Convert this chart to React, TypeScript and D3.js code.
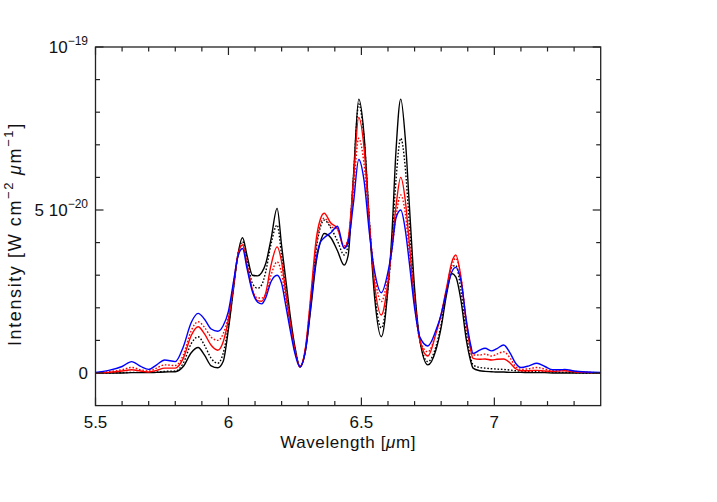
import React from 'react';
import * as d3 from 'd3';

// Wavelength grid [µm]
const wavelength = [5.50, 5.55, 5.60, 5.636, 5.67, 5.70, 5.73, 5.76, 5.80, 5.83, 5.86, 5.886, 5.91, 5.935, 5.96, 5.98, 6.00, 6.02, 6.035, 6.053, 6.07, 6.09, 6.11, 6.125, 6.14, 6.16, 6.183, 6.20, 6.215, 6.235, 6.25, 6.269, 6.29, 6.31, 6.33, 6.345, 6.36, 6.385, 6.41, 6.435, 6.45, 6.47, 6.49, 6.51, 6.53, 6.55, 6.575, 6.60, 6.615, 6.63, 6.648, 6.665, 6.68, 6.70, 6.72, 6.75, 6.78, 6.80, 6.82, 6.84, 6.855, 6.875, 6.895, 6.91, 6.92, 6.945, 6.965, 6.99, 7.01, 7.035, 7.06, 7.08, 7.10, 7.13, 7.16, 7.19, 7.22, 7.245, 7.265, 7.30, 7.35, 7.40];

// Intensities in units of 1e-20 W cm^-2 µm^-1
const blackSolid = [0, 0, 0, 0.01, 0.01, 0.01, 0.02, 0.03, 0.04, 0.2, 0.62, 0.78, 0.55, 0.22, 0.16, 0.35, 1.35, 2.65, 3.6, 4.15,
  3.6, 3.0, 2.98, 3.08, 3.35, 4.1, 5.05, 3.9, 2.9, 1.6, 0.8, 0.19,
  0.7, 2.0, 3.4, 4.0, 4.28, 4.15, 3.75, 3.31,
  3.6, 6.0, 8.4, 7.3, 4.6, 2.3, 1.11,
  2.6, 4.3, 6.8, 8.4, 7.2, 5.2, 2.6, 1.0, 0.25,
  0.7, 1.4, 2.4, 3.05, 2.95, 2.2, 1.0, 0.4, 0.15,
  0.07, 0.05, 0.04, 0.03, 0.03, 0.02, 0.02, 0.02, 0.01, 0.01, 0.01, 0, 0, 0, 0, 0, 0];

const blackDotted = [0, 0, 0.01, 0.02, 0.02, 0.02, 0.03, 0.05, 0.06, 0.3, 0.9, 1.11, 0.85, 0.45, 0.3, 0.6, 1.45, 2.7, 3.6, 4.03,
  3.5, 2.75, 2.6, 2.7, 3.1, 3.95, 4.54, 3.6, 2.6, 1.45, 0.75, 0.19,
  0.75, 2.2, 3.8, 4.45, 4.69, 4.45, 4.05, 3.62,
  3.9, 6.0, 8.25, 7.2, 4.7, 2.5, 1.38,
  2.6, 4.0, 5.9, 7.2, 6.3, 4.6, 2.4, 1.0, 0.35,
  0.8, 1.5, 2.5, 3.25, 3.3, 2.5, 1.2, 0.5, 0.25,
  0.17, 0.15, 0.13, 0.12, 0.11, 0.09, 0.07, 0.06, 0.05, 0.04, 0.03, 0.03, 0.02, 0.02, 0.01, 0, 0];

const redSolid = [0, 0.02, 0.06, 0.1, 0.06, 0.03, 0.08, 0.15, 0.15, 0.45, 1.15, 1.42, 1.2, 0.85, 0.7, 0.95, 1.65, 2.75, 3.6, 3.93,
  3.3, 2.55, 2.22, 2.2, 2.45, 3.3, 3.87, 3.4, 2.5, 1.4, 0.7, 0.19,
  0.8, 2.4, 4.1, 4.7, 4.9, 4.6, 4.44, 3.85,
  4.1, 5.9, 7.84, 6.9, 4.6, 2.7, 1.78,
  2.8, 3.9, 5.1, 6.0, 5.3, 4.0, 2.2, 1.0, 0.52,
  1.2, 1.8, 2.6, 3.4, 3.62, 2.9, 1.5, 0.75, 0.45,
  0.42, 0.43, 0.4, 0.42, 0.43, 0.3, 0.13, 0.07, 0.07, 0.08, 0.06, 0.05, 0.06, 0.07, 0.04, 0.02, 0.01];

const redDotted = [0.01, 0.04, 0.1, 0.17, 0.1, 0.06, 0.15, 0.25, 0.23, 0.55, 1.3, 1.57, 1.4, 1.1, 1.0, 1.2, 1.75, 2.8, 3.6, 3.95,
  3.3, 2.55, 2.3, 2.3, 2.4, 3.0, 3.41, 3.05, 2.3, 1.3, 0.65, 0.19,
  0.78, 2.3, 3.9, 4.55, 4.75, 4.5, 4.4, 3.9,
  4.1, 5.6, 7.2, 6.4, 4.5, 3.0, 2.19,
  3.0, 3.8, 4.8, 5.46, 4.9, 3.7, 2.1, 1.0, 0.65,
  1.2, 1.8, 2.55, 3.3, 3.52, 2.9, 1.55, 0.85, 0.55,
  0.55, 0.58, 0.52, 0.58, 0.65, 0.45, 0.2, 0.11, 0.13, 0.17, 0.12, 0.07, 0.08, 0.09, 0.05, 0.02, 0.01];

const blueSolid = [0.02, 0.08, 0.2, 0.35, 0.2, 0.11, 0.25, 0.4, 0.35, 0.8, 1.55, 1.83, 1.65, 1.35, 1.28, 1.45, 1.9, 2.85, 3.55, 3.82,
  3.2, 2.5, 2.17, 2.12, 2.3, 2.8, 3.0, 2.75, 2.1, 1.2, 0.6, 0.19,
  0.7, 2.1, 3.5, 4.0, 4.15, 4.3, 4.5, 3.82,
  4.0, 5.2, 6.55, 5.9, 4.3, 3.1, 2.46,
  3.1, 3.8, 4.75, 5.0, 4.4, 3.4, 2.0, 1.1, 0.83,
  1.3, 1.8, 2.5, 3.1, 3.24, 2.8, 1.6, 0.9, 0.6,
  0.7, 0.76, 0.68, 0.75, 0.86, 0.6, 0.3, 0.17, 0.22, 0.3, 0.2, 0.1, 0.1, 0.11, 0.06, 0.03, 0.02];

const xMajorTicks = [5.5, 6, 6.5, 7];
const xTickLabels = ['5.5', '6', '6.5', '7'];
const xMinorTicks = [5.6, 5.7, 5.8, 5.9, 6.1, 6.2, 6.3, 6.4, 6.6, 6.7, 6.8, 6.9, 7.1, 7.2, 7.3];
const yMajorTicks = [0, 5, 10];
const yMinorTicks = [1, 2, 3, 4, 6, 7, 8, 9];

const seriesList = [
  { values: blackSolid, color: '#000000', dash: null },
  { values: blackDotted, color: '#000000', dash: '1.6,1.8' },
  { values: redSolid, color: '#ff0000', dash: null },
  { values: redDotted, color: '#ff0000', dash: '1.6,1.8' },
  { values: blueSolid, color: '#0000ff', dash: null },
];

const FONT = "'Liberation Sans', Arial, Helvetica, sans-serif";

export default function App() {
  const left = 95.5, right = 600.7, top = 47, bottom = 405.6;
  const x = d3.scaleLinear().domain([5.5, 7.4]).range([left, right]);
  const y = d3.scaleLinear().domain([-1, 10]).range([bottom, top]);
  const majorLen = 8, minorLen = 4.5;

  const lineGen = (vals: number[]) =>
    d3.line<number>()
      .x((_, i) => x(wavelength[i]))
      .y((d) => y(d))
      .curve(d3.curveMonotoneX)(vals) as string;

  const axisColor = '#222';
  const tickEls: React.ReactNode[] = [];
  xMajorTicks.forEach((t, i) => {
    tickEls.push(<line key={'xb' + i} x1={x(t)} x2={x(t)} y1={bottom} y2={bottom - majorLen} stroke={axisColor} strokeWidth={1.2} />);
    tickEls.push(<line key={'xt' + i} x1={x(t)} x2={x(t)} y1={top} y2={top + majorLen} stroke={axisColor} strokeWidth={1.2} />);
  });
  xMinorTicks.forEach((t, i) => {
    tickEls.push(<line key={'xbm' + i} x1={x(t)} x2={x(t)} y1={bottom} y2={bottom - minorLen} stroke={axisColor} strokeWidth={1.2} />);
    tickEls.push(<line key={'xtm' + i} x1={x(t)} x2={x(t)} y1={top} y2={top + minorLen} stroke={axisColor} strokeWidth={1.2} />);
  });
  yMajorTicks.forEach((t, i) => {
    tickEls.push(<line key={'yl' + i} x1={left} x2={left + majorLen} y1={y(t)} y2={y(t)} stroke={axisColor} strokeWidth={1.2} />);
    tickEls.push(<line key={'yr' + i} x1={right} x2={right - majorLen} y1={y(t)} y2={y(t)} stroke={axisColor} strokeWidth={1.2} />);
  });
  yMinorTicks.forEach((t, i) => {
    tickEls.push(<line key={'ylm' + i} x1={left} x2={left + minorLen} y1={y(t)} y2={y(t)} stroke={axisColor} strokeWidth={1.2} />);
    tickEls.push(<line key={'yrm' + i} x1={right} x2={right - minorLen} y1={y(t)} y2={y(t)} stroke={axisColor} strokeWidth={1.2} />);
  });

  const fs = 17, sup = 12;

  return (
    <div style={{ position: 'absolute', left: 0, top: 0 }}>
      <svg width={717} height={502} style={{ display: 'block', background: '#fff' }} fontFamily={FONT}>
        <defs>
          <clipPath id="plotClip">
            <rect x={left} y={top} width={right - left} height={bottom - top} />
          </clipPath>
        </defs>
        <g clipPath="url(#plotClip)">
          {seriesList.map((s, i) => (
            <path key={i} d={lineGen(s.values)} fill="none" stroke={s.color} strokeWidth={1.4}
              strokeDasharray={s.dash ?? undefined} strokeLinejoin="round" />
          ))}
        </g>
        {tickEls}
        <rect x={left} y={top} width={right - left} height={bottom - top} fill="none" stroke={axisColor} strokeWidth={1.3} />

        {xMajorTicks.map((t, i) => (
          <text key={'xl' + i} x={x(t)} y={428} textAnchor="middle" fontSize={fs} fill="#111">{xTickLabels[i]}</text>
        ))}
        <text x={(left + right) / 2} y={448} textAnchor="middle" fontSize={fs} fill="#111" letterSpacing={0.6}>
          Wavelength [<tspan fontStyle="italic">μ</tspan>m]
        </text>

        <text x={88} y={y(0) + 6} textAnchor="end" fontSize={fs} fill="#111">0</text>
        <text x={88} y={y(5) + 6} textAnchor="end" fontSize={fs} fill="#111">
          5 10<tspan dy={-8} fontSize={sup}>−20</tspan>
        </text>
        <text x={88} y={y(10) + 6} textAnchor="end" fontSize={fs} fill="#111">
          10<tspan dy={-8} fontSize={sup}>−19</tspan>
        </text>

        <g transform={`translate(21, 346) rotate(-90)`}>
          <text x={0} y={0} fontSize={18} fill="#111" letterSpacing={1.6}>
            Intensity [W cm<tspan dy={-8} fontSize={13}>−2</tspan><tspan dy={8} fontStyle="italic" dx={6}>μ</tspan>m<tspan dy={-8} fontSize={13}>−1</tspan><tspan dy={8}>]</tspan>
          </text>
        </g>
      </svg>
    </div>
  );
}
